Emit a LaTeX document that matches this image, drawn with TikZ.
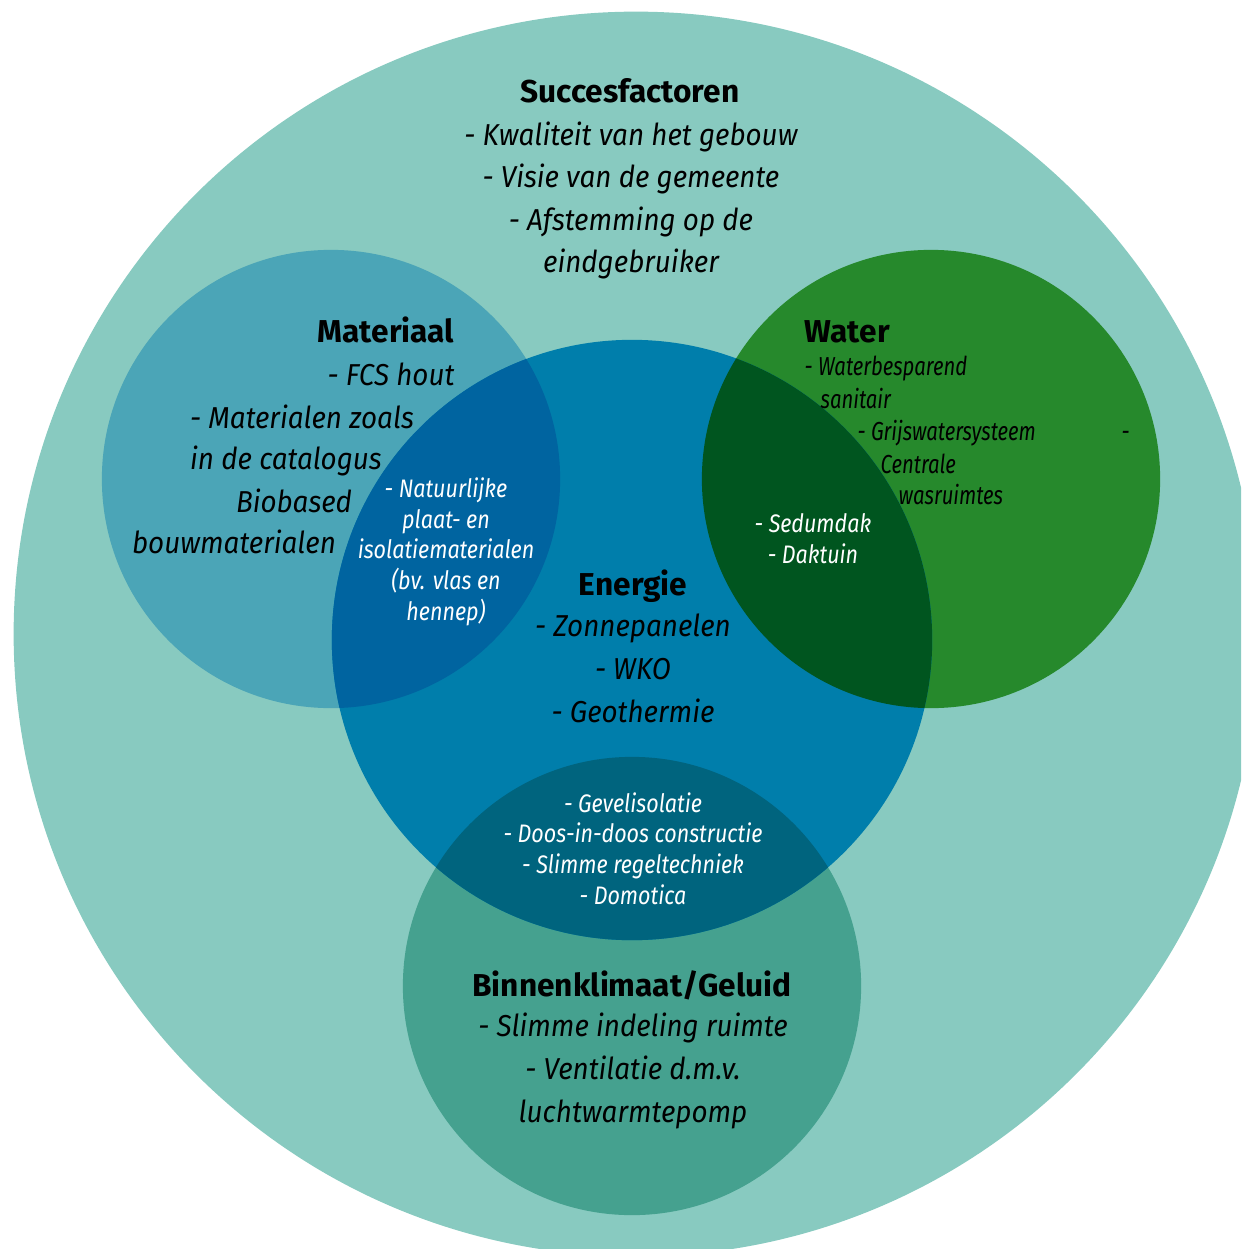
\documentclass[tikz,border=0pt]{standalone}
\usepackage{fontspec}
\setmainfont{Fira Sans}[FakeStretch=0.92]
\newfontfamily\headfont{Fira Sans}
\newfontfamily\smallfont{Fira Sans}[FakeStretch=0.85]
\newfontfamily\waterfont{Fira Sans}[FakeStretch=0.78]
\usetikzlibrary{positioning}

\definecolor{outerc}{HTML}{88CAC0}
\definecolor{matc}{HTML}{4BA5B7}
\definecolor{enc}{HTML}{007EAB}
\definecolor{watc}{HTML}{26892C}
\definecolor{binc}{HTML}{45A18F}
\definecolor{matenc}{HTML}{0064A0}
\definecolor{watenc}{HTML}{00551F}
\definecolor{binenc}{HTML}{00647E}

\begin{document}
\begin{tikzpicture}[x=0.01cm,y=-0.01cm,
  headnode/.style={font=\headfont\fontsize{9}{12.1}\selectfont\bfseries,inner sep=0pt,anchor=base},
  itemnode/.style={font=\fontsize{8.6}{12.1}\selectfont\itshape,inner sep=0pt,anchor=base,align=center},
  smallnode/.style={font=\smallfont\fontsize{7.2}{8.7}\selectfont\itshape,text=white,inner sep=0pt,anchor=base,align=center},
  waternode/.style={font=\waterfont\fontsize{7.4}{9.25}\selectfont\itshape,inner sep=0pt,anchor=base west}]
	\useasboundingbox (0,0) rectangle (1241,1249);
	\clip (0,0) rectangle (1241,1249);
	% circles
	\coordinate (all) at (636,634);
	\coordinate (mat) at (331,479);
	\coordinate (en) at (632,640);
	\coordinate (wat) at (931,479);
	\coordinate (bin) at (632,986);
	\fill[outerc] (all) circle[radius=6.22cm];
	\fill[matc] (mat) circle[radius=2.29cm];
	\fill[watc] (wat) circle[radius=2.29cm];
	\fill[binc] (bin) circle[radius=2.29cm];
	\fill[enc] (en) circle[radius=3cm];
	\begin{scope}
		\clip (en) circle[radius=3cm];
		\fill[matenc] (mat) circle[radius=2.29cm];
		\fill[watenc] (wat) circle[radius=2.29cm];
		\fill[binenc] (bin) circle[radius=2.29cm];
	\end{scope}
	% Succesfactoren (multi-line nodes sit on their last baseline)
	\node [headnode] (s0) at (630,103) {Succesfactoren};
	\node [itemnode] (s1) at (631,273) {- Kwaliteit van het gebouw\\- Visie van de gemeente\\- Afstemming op de\\eindgebruiker};
	% Materiaal
	\node [headnode] (m0) at (386,343) {Materiaal};
	\node [itemnode] (m1) at (391,385) {- FCS hout};
	\node [itemnode] (m2) at (302,428) {- Materialen zoals};
	\node [itemnode] (m3) at (286,469) {in de catalogus};
	\node [itemnode] (m4) at (294,512) {Biobased};
	\node [itemnode] (m5) at (234,553) {bouwmaterialen};
	\node [smallnode] (me) at (446,620) {- Natuurlijke\\plaat- en\\isolatiematerialen\\(bv. vlas en\\hennep)};
	% Energie
	\node [headnode] (e0) at (633,595) {Energie};
	\node [itemnode] (e1) at (633,722) {- Zonnepanelen\\- WKO\\- Geothermie};
	% Water
	\node [headnode,anchor=base west] (w0) at (804,343) {Water};
	\node [waternode] (w1) at (804,375) {- Waterbesparend};
	\node [waternode] (w2) at (820,408) {sanitair};
	\node [waternode] (w3) at (857,440) {- Grijswatersysteem};
	\node [waternode] (w4) at (1121,440) {-};
	\node [waternode] (w5) at (880,473) {Centrale};
	\node [waternode] (w6) at (898,504) {wasruimtes};
	\node [smallnode] (we) at (813,563) {- Sedumdak\\- Daktuin};
	% Binnenklimaat
	\node [smallnode] (be) at (633,904) {- Gevelisolatie\\- Doos-in-doos constructie\\- Slimme regeltechniek\\- Domotica};
	\node [headnode] (b0) at (632,996) {Binnenklimaat/Geluid};
	\node [itemnode] (b1) at (633,1122) {- Slimme indeling ruimte\\- Ventilatie d.m.v.\\luchtwarmtepomp};
\end{tikzpicture}
\end{document}
